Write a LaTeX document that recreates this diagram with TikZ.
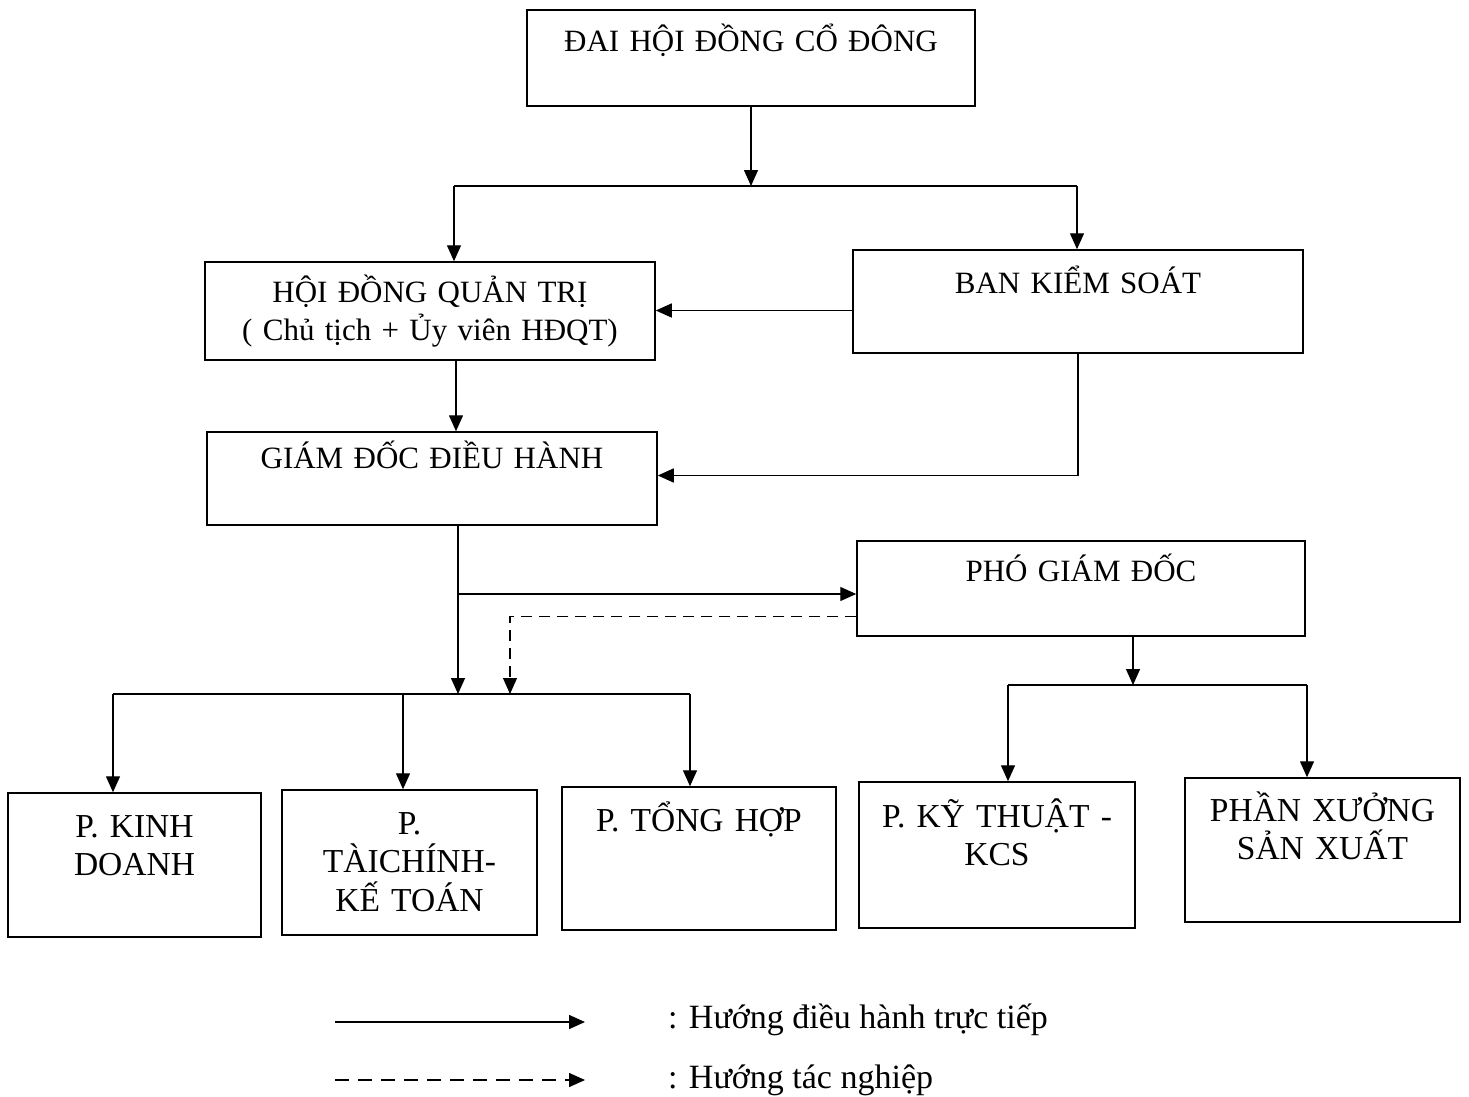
\documentclass[tikz,border=0pt]{standalone}
\usepackage{fontspec}
\setmainfont{Liberation Serif}
\usetikzlibrary{arrows.meta}
\newcommand{\upfont}{\fontsize{31}{38}\selectfont}
\newcommand{\lowfont}{\fontsize{33.5}{38.5}\selectfont}
\newcommand{\legfont}{\fontsize{34}{40}\selectfont}
\tikzset{
  box/.style={draw, line width=1.5pt, inner sep=0pt},
  uptxt/.style={anchor=base, align=center, text width=440pt, inner sep=0pt, font=\upfont},
  lowtxt/.style={anchor=base, align=center, text width=270pt, inner sep=0pt, font=\lowfont},
  link/.style={line width=1.4pt},
  arr/.style={link, -{Triangle[length=16pt,width=14pt]}},
  dasharr/.style={arr, line width=1.1pt, dash pattern=on 11pt off 7pt}
}
\begin{document}
\begin{tikzpicture}[x=1pt, y=-1pt]
  \useasboundingbox (0,0) rectangle (1469,1097);

  % Boxes
  \node[box, minimum width=448pt, minimum height=96pt,
    label={[uptxt, yshift=-42pt]north:{ĐAI HỘI ĐỒNG CỔ ĐÔNG}}] (dhd) at (751,58) {};
  \node[box, minimum width=450pt, minimum height=98pt,
    label={[uptxt, yshift=-41pt]north:{HỘI ĐỒNG QUẢN TRỊ\\( Chủ tịch + Ủy viên HĐQT)}}] (hdqt) at (430,311) {};
  \node[box, minimum width=450pt, minimum height=103pt,
    label={[uptxt, yshift=-44pt]north:{BAN KIỂM SOÁT}}] (bks) at (1078,301.5) {};
  \node[box, minimum width=450pt, minimum height=93pt,
    label={[uptxt, yshift=-37pt]north:{GIÁM ĐỐC ĐIỀU HÀNH}}] (gddh) at (432,478.5) {};
  \node[box, minimum width=448pt, minimum height=95pt,
    label={[uptxt, yshift=-41pt]north:{PHÓ GIÁM ĐỐC}}] (pgd) at (1081,588.5) {};

  \node[box, minimum width=253pt, minimum height=144pt,
    label={[lowtxt, yshift=-45pt]north:{P. KINH\\DOANH}}] (kd) at (134.5,865) {};
  \node[box, minimum width=255pt, minimum height=145pt,
    label={[lowtxt, yshift=-45pt]north:{P.\\TÀICHÍNH-\\KẾ TOÁN}}] (tckt) at (409.5,862.5) {};
  \node[box, minimum width=274pt, minimum height=143pt,
    label={[lowtxt, yshift=-45pt]north:{P. TỔNG HỢP}}] (th) at (699,858.5) {};
  \node[box, minimum width=276pt, minimum height=146pt,
    label={[lowtxt, yshift=-46pt]north:{P. KỸ THUẬT -\\KCS}}] (kt) at (997,855) {};
  \node[box, minimum width=275pt, minimum height=144pt,
    label={[lowtxt, yshift=-44pt]north:{PHẦN XƯỞNG\\SẢN XUẤT}}] (px) at (1322.5,850) {};

  % Junctions
  \coordinate (j1) at (751,186);
  \coordinate (j1l) at (454,186);
  \coordinate (j1r) at (1077,186);
  \coordinate (b1) at (458,594);
  \coordinate (j2) at (458,694);
  \coordinate (j2l) at (113,694);
  \coordinate (j2m) at (403,694);
  \coordinate (j2r) at (690,694);
  \coordinate (j3) at (510,694);
  \coordinate (j4) at (1133,685);
  \coordinate (j4l) at (1008,685);
  \coordinate (j4r) at (1307,685);

  % Edges
  \draw[arr] (dhd.south) -- (j1);
  \draw[link] (j1l) -- (j1r);
  \draw[arr] (j1l) -- (j1l |- hdqt.north);
  \draw[arr] (j1r) -- (j1r |- bks.north);
  \draw[arr] ([yshift=-9pt]bks.west) -- ([yshift=-9pt]bks.west -| hdqt.east);
  \draw[arr] ([xshift=26pt]hdqt.south) -- ([xshift=26pt]hdqt.south |- gddh.north);
  \draw[arr] (bks.south) |- ([yshift=3pt]gddh.east);
  \draw[arr] ([xshift=26pt]gddh.south) -- (j2);
  \draw[arr] (b1) -- (b1 -| pgd.west);
  \draw[dasharr] ([yshift=-28pt]pgd.west) -| (j3);
  \draw[link] (j2l) -- (j2r);
  \draw[arr] (j2l) -- (j2l |- kd.north);
  \draw[arr] (j2m) -- (j2m |- tckt.north);
  \draw[arr] (j2r) -- (j2r |- th.north);
  \draw[arr] ([xshift=52pt]pgd.south) -- (j4);
  \draw[link] (j4l) -- (j4r);
  \draw[arr] (j4l) -- (j4l |- kt.north);
  \draw[arr] (j4r) -- (j4r |- px.north);

  % Legend
  \coordinate (lga) at (335,1022);
  \coordinate (lgb) at (585,1022);
  \coordinate (lgc) at (335,1080);
  \coordinate (lgd) at (585,1080);
  \draw[arr] (lga) -- (lgb);
  \draw[arr, dash pattern=on 14pt off 9pt] (lgc) -- (lgd);
  \node[anchor=base west, inner sep=0pt, font=\legfont] (lg1) at (668,1028) {: Hướng điều hành trực tiếp};
  \node[anchor=base west, inner sep=0pt, font=\legfont] (lg2) at (668,1088) {: Hướng tác nghiệp};
\end{tikzpicture}
\end{document}
